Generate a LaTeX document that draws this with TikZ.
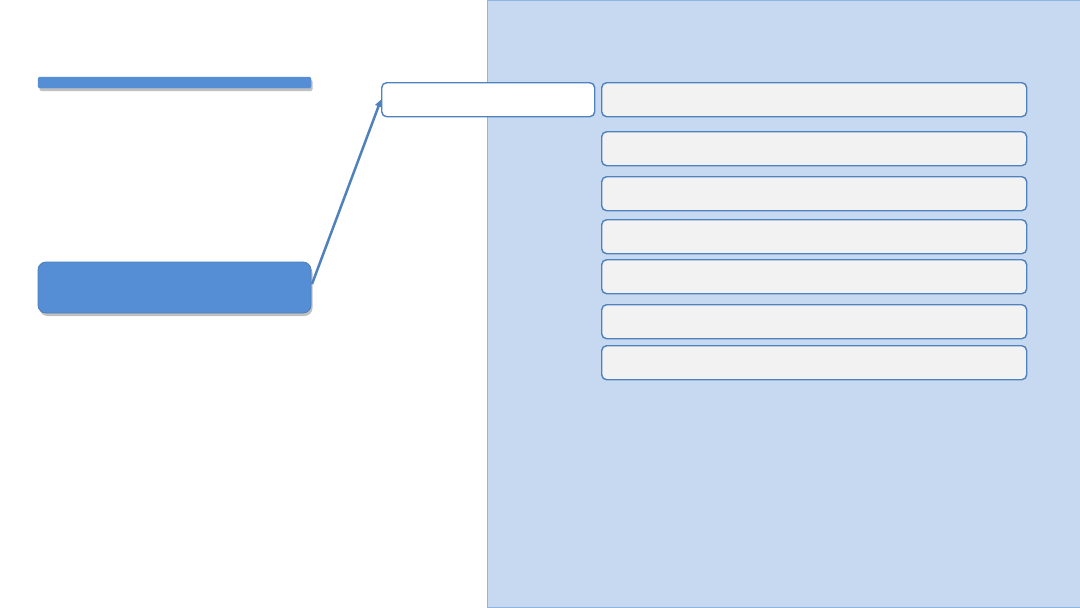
\documentclass[tikz,border=0pt]{standalone}
\usetikzlibrary{shadows,arrows.meta}
\definecolor{panelfill}{HTML}{C6D9F0}
\definecolor{panelline}{HTML}{8EB4E3}
\definecolor{accent}{HTML}{558ED5}
\definecolor{accentline}{HTML}{4A7EBB}
\definecolor{boxline}{HTML}{4F81BD}
\definecolor{greyfill}{HTML}{F2F2F2}
\tikzset{
  panel/.style={fill=panelfill, draw=panelline, line width=0.8pt},
  shadowed/.style={drop shadow={shadow xshift=1.5pt, shadow yshift=-3pt, opacity=0.35, fill=black!70}},
  barbox/.style={fill=accent, draw=accent, rounded corners=1.5pt, shadowed},
  bluebox/.style={fill=accent, draw=accentline, line width=0.8pt, rounded corners=8pt, shadowed},
  whitebox/.style={fill=white, draw=boxline, line width=1.4pt, rounded corners=5pt},
  greybox/.style={fill=greyfill, draw=boxline, line width=1.4pt, rounded corners=5pt},
  link/.style={draw=boxline, line width=2.5pt, -{Triangle[length=7pt,width=7pt]}}
}
\begin{document}
\begin{tikzpicture}[x=1pt,y=-1pt]
\useasboundingbox (0,0) rectangle (1080,608);
\fill[white] (0,0) rectangle (1080,608);
\draw[panel] (487.5,0.5) rectangle (1080,607.5);
\draw[barbox] (38,77) rectangle (311,88);
\draw[bluebox] (38,262) rectangle (311,313);
\coordinate (blueR) at (312,284);
\node[whitebox, minimum width=213pt, minimum height=34pt, inner sep=0pt, anchor=north west] (w) at (381,82) {};
\foreach \y [count=\i] in {82,131,176,219,259,304,345}{
  \node[greybox, minimum width=425pt, minimum height=34pt, inner sep=0pt, anchor=north west] (g\i) at (601,\y) {};
}
\draw[link] (blueR) -- (w.west);
\end{tikzpicture}
\end{document}
